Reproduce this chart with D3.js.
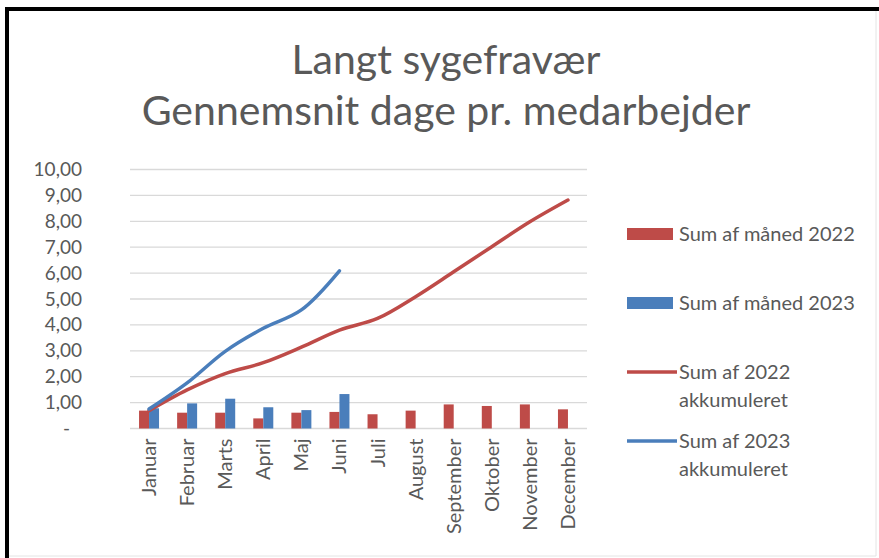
<!DOCTYPE html>
<html>
<head>
<meta charset="utf-8">
<script src="https://cdn.jsdelivr.net/npm/d3@7"></script>
<style>
  html, body { margin: 0; padding: 0; background: #fff; }
  svg { display: block; font-family: Lato, "Open Sans", sans-serif; }
</style>
</head>
<body>
<div id="chart"></div>
<script>
// --- Data ---
const months = ["Januar", "Februar", "Marts", "April", "Maj", "Juni",
    "Juli", "August", "September", "Oktober", "November", "December"];
const maaned2022 = [0.69, 0.61, 0.61, 0.39, 0.61, 0.64, 0.55, 0.69, 0.93, 0.87, 0.93, 0.74];
const maaned2023 = [0.78, 0.97, 1.15, 0.82, 0.71, 1.33];
const akk2022 = [0.69, 1.49, 2.12, 2.54, 3.14, 3.8, 4.25, 5.09, 6.05, 7.02, 7.98, 8.82];
const akk2023 = [0.75, 1.76, 2.98, 3.87, 4.58, 6.09];
const yTicks = [0, 1, 2, 3, 4, 5, 6, 7, 8, 9, 10];
const titleLines = ["Langt sygefravær", "Gennemsnit dage pr. medarbejder"];
const legendItems = [
    { label: ["Sum af måned 2022"], color: "#BE4B48", type: "bar" },
    { label: ["Sum af måned 2023"], color: "#4A7EBB", type: "bar" },
    { label: ["Sum af 2022", "akkumuleret"], color: "#BE4B48", type: "line" },
    { label: ["Sum af 2023", "akkumuleret"], color: "#4A7EBB", type: "line" }
];

// --- Layout ---
const width = 879, height = 558;
const plot = { left: 130, right: 587, top: 169.5, bottom: 428.5 };
const textColor = "#595959";

const svg = d3.select("#chart").append("svg")
    .attr("width", width)
    .attr("height", height);

svg.append("rect").attr("width", width).attr("height", height).attr("fill", "#fff");

// frame: heavy black top/left edge, faint right/bottom
svg.append("path")
    .attr("d", `M7,${height} V9 H${width}`)
    .attr("fill", "none").attr("stroke", "#000").attr("stroke-width", 4);
svg.append("path")
    .attr("d", `M876,11 V556 H9`)
    .attr("fill", "none").attr("stroke", "#e4e4e4").attr("stroke-width", 1);

// title
svg.append("g").selectAll("text")
    .data(titleLines)
    .join("text")
    .attr("x", 446)
    .attr("y", (d, i) => 74 + i * 51)
    .attr("text-anchor", "middle")
    .attr("font-size", 41)
    .attr("fill", textColor)
    .text(d => d);

// --- Scales ---
const x0 = d3.scaleBand()
    .domain(months)
    .range([plot.left, plot.right])
    .paddingInner(0.475)
    .paddingOuter(0.2375);
const x1 = d3.scaleBand()
    .domain(["2022", "2023"])
    .range([0, x0.bandwidth()]);
const y = d3.scaleLinear()
    .domain([0, 10])
    .range([plot.bottom, plot.top]);
const cx = m => x0(m) + x0.bandwidth() / 2;

// gridlines
svg.append("g").selectAll("line")
    .data(yTicks)
    .join("line")
    .attr("x1", plot.left).attr("x2", plot.right)
    .attr("y1", d => y(d)).attr("y2", d => y(d))
    .attr("stroke", "#d9d9d9").attr("stroke-width", 1.3);

// y axis labels
const yAxis = svg.append("g")
    .attr("transform", `translate(${plot.left - 45},0)`)
    .call(d3.axisLeft(y).tickValues(yTicks).tickSize(0)
        .tickFormat(d => d === 0 ? "-" : d.toFixed(2).replace(".", ",")));
yAxis.select(".domain").remove();
yAxis.selectAll("text")
    .attr("font-family", "Lato, sans-serif")
    .attr("font-size", 19)
    .attr("fill", textColor)
    .attr("dx", d => d === 0 ? -12 : 0);

// x axis labels
const xAxis = svg.append("g")
    .attr("transform", `translate(0,${plot.bottom})`)
    .call(d3.axisBottom(x0).tickSize(0));
xAxis.select(".domain").remove();
xAxis.selectAll("text")
    .attr("font-family", "Lato, sans-serif")
    .attr("font-size", 20)
    .attr("fill", textColor)
    .attr("text-anchor", "end")
    .attr("transform", "rotate(-90)")
    .attr("x", -10)
    .attr("y", 0)
    .attr("dy", "0.35em");

// bars
const bars = svg.append("g");
bars.selectAll(".b22")
    .data(maaned2022)
    .join("rect")
    .attr("class", "b22")
    .attr("x", (d, i) => x0(months[i]) + x1("2022"))
    .attr("width", x1.bandwidth())
    .attr("y", d => y(d))
    .attr("height", d => y(0) - y(d))
    .attr("fill", "#BE4B48");
bars.selectAll(".b23")
    .data(maaned2023)
    .join("rect")
    .attr("class", "b23")
    .attr("x", (d, i) => x0(months[i]) + x1("2023"))
    .attr("width", x1.bandwidth())
    .attr("y", d => y(d))
    .attr("height", d => y(0) - y(d))
    .attr("fill", "#4A7EBB");

// cumulative lines
const line = d3.line()
    .x((d, i) => cx(months[i]))
    .y(d => y(d))
    .curve(d3.curveCatmullRom.alpha(0.5));
svg.append("path")
    .datum(akk2022)
    .attr("d", line)
    .attr("fill", "none")
    .attr("stroke", "#BE4B48")
    .attr("stroke-width", 3.5)
    .attr("stroke-linecap", "round");
svg.append("path")
    .datum(akk2023)
    .attr("d", line)
    .attr("fill", "none")
    .attr("stroke", "#4A7EBB")
    .attr("stroke-width", 3.5)
    .attr("stroke-linecap", "round");

// legend
const legendY = [234, 303, 372, 441];
const legend = svg.append("g");
legendItems.forEach((item, i) => {
    const g = legend.append("g").attr("transform", `translate(627,${legendY[i]})`);
    if (item.type === "bar") {
        g.append("rect").attr("x", 0).attr("y", -6).attr("width", 46).attr("height", 12)
            .attr("fill", item.color);
    } else {
        g.append("line").attr("x1", 0).attr("x2", 50).attr("y1", 0).attr("y2", 0)
            .attr("stroke", item.color).attr("stroke-width", 3.5);
    }
    g.append("text")
        .attr("x", 52)
        .attr("font-size", 20)
        .attr("fill", textColor)
        .selectAll("tspan")
        .data(item.label)
        .join("tspan")
        .attr("x", 52)
        .attr("y", (d, j) => j * 28)
        .attr("dy", "0.35em")
        .text(d => d);
});
</script>
</body>
</html>
